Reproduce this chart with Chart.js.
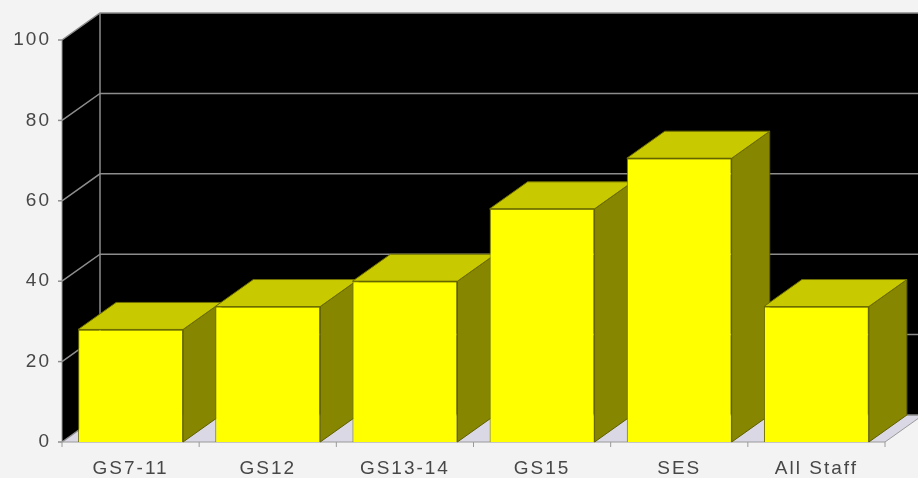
<!DOCTYPE html>
<html>
<head>
<meta charset="utf-8">
<script src="https://cdn.jsdelivr.net/npm/chart.js@4.4.1/dist/chart.umd.min.js"></script>
<style>
  html, body { margin: 0; padding: 0; background: #f3f3f3; }
  #wrap { width: 918px; height: 478px; }
</style>
</head>
<body>
<div id="wrap"><canvas id="chart" width="918" height="478"></canvas></div>
<script>
// data
const categories = ['GS7-11', 'GS12', 'GS13-14', 'GS15', 'SES', 'All Staff'];
const values = [28, 33.7, 40, 58, 70.6, 33.7];
const yTicks = [0, 20, 40, 60, 80, 100];

// 3d depth offset
const DX = 38, DY = -27;

function poly(ctx, pts, fill, stroke) {
    ctx.beginPath();
    ctx.moveTo(pts[0][0], pts[0][1]);
    for (let i = 1; i < pts.length; i++) ctx.lineTo(pts[i][0], pts[i][1]);
    ctx.closePath();
    if (fill) { ctx.fillStyle = fill; ctx.fill(); }
    if (stroke) { ctx.strokeStyle = stroke; ctx.lineWidth = 1; ctx.stroke(); }
}

const walls3d = {
    id: 'walls3d',
    beforeDraw(chart) {
        const { ctx, chartArea: ca, scales } = chart;
        const y = scales.y, x = scales.x;
        // wide looking labels like the original
        ctx.letterSpacing = '2px';
        ctx.save();
        ctx.fillStyle = '#f3f3f3';
        ctx.fillRect(0, 0, chart.width, chart.height);

        // back + left wall
        ctx.fillStyle = '#000';
        ctx.fillRect(ca.left + DX, ca.top + DY, chart.width, ca.bottom - ca.top);
        poly(ctx, [[ca.left, ca.top], [ca.left + DX, ca.top + DY], [ca.left + DX, ca.bottom + DY], [ca.left, ca.bottom]], '#000');

        // floor
        poly(ctx, [[ca.left, ca.bottom], [ca.left + DX, ca.bottom + DY], [ca.right + DX, ca.bottom + DY], [ca.right, ca.bottom]], '#d9d8e4');

        // grid lines on the walls
        ctx.strokeStyle = '#8c8c8c';
        ctx.lineWidth = 1.5;
        yTicks.forEach(v => {
            const py = y.getPixelForValue(v);
            ctx.beginPath();
            ctx.moveTo(ca.left, py);
            ctx.lineTo(ca.left + DX, py + DY);
            ctx.lineTo(chart.width, py + DY);
            ctx.stroke();
            ctx.beginPath();
            ctx.moveTo(ca.left - 4, py);
            ctx.lineTo(ca.left, py);
            ctx.stroke();
        });
        ctx.beginPath();
        ctx.moveTo(ca.left + DX, ca.top + DY);
        ctx.lineTo(ca.left + DX, ca.bottom + DY);
        ctx.stroke();

        // front edges
        ctx.strokeStyle = '#9a9a9a';
        ctx.lineWidth = 1;
        ctx.beginPath();
        ctx.moveTo(ca.left, ca.top);
        ctx.lineTo(ca.left, ca.bottom);
        ctx.lineTo(ca.right, ca.bottom);
        ctx.lineTo(ca.right + DX, ca.bottom + DY);
        ctx.stroke();

        // category boundary ticks
        const step = x.getPixelForValue(1) - x.getPixelForValue(0);
        for (let i = 0; i <= categories.length; i++) {
            const px = x.getPixelForValue(0) - step / 2 + i * step;
            ctx.beginPath();
            ctx.moveTo(px, ca.bottom);
            ctx.lineTo(px, ca.bottom + 5);
            ctx.stroke();
        }
        ctx.restore();
    },
    beforeDatasetsDraw(chart) {
        const ctx = chart.ctx;
        const meta = chart.getDatasetMeta(0);
        ctx.save();
        meta.data.forEach(bar => {
            const { x, y, base, width } = bar.getProps(['x', 'y', 'base', 'width'], true);
            const l = x - width / 2, r = x + width / 2;
            poly(ctx, [[r, y], [r + DX, y + DY], [r + DX, base + DY], [r, base]], '#868600', '#5e5e00');
            poly(ctx, [[l, y], [l + DX, y + DY], [r + DX, y + DY], [r, y]], '#c9c900', '#6e6e00');
        });
        ctx.restore();
    }
};

const labelFont = { family: 'Liberation Sans', size: 19 };

new Chart(document.getElementById('chart'), {
    type: 'bar',
    data: {
        labels: categories,
        datasets: [{
            data: values,
            backgroundColor: '#ffff00',
            borderColor: '#6e6e00',
            borderWidth: 1,
            barPercentage: 0.765,
            categoryPercentage: 1
        }]
    },
    options: {
        responsive: false,
        animation: false,
        layout: { padding: { left: 0, right: 33, top: 40, bottom: 0 } },
        plugins: { legend: { display: false }, tooltip: { enabled: false } },
        scales: {
            x: {
                grid: { display: false },
                border: { display: false },
                ticks: { color: '#474747', font: labelFont, padding: 7, maxRotation: 0, autoSkip: false },
                afterFit: s => { s.height = 36; s.paddingLeft = 0; s.paddingRight = 0; }
            },
            y: {
                min: 0, max: 100,
                grid: { display: false },
                border: { display: false },
                ticks: { stepSize: 20, color: '#474747', font: labelFont, padding: 3 },
                afterFit: s => { s.width = 62; s.paddingTop = 0; s.paddingBottom = 0; }
            }
        }
    },
    plugins: [walls3d]
});
</script>
</body>
</html>
